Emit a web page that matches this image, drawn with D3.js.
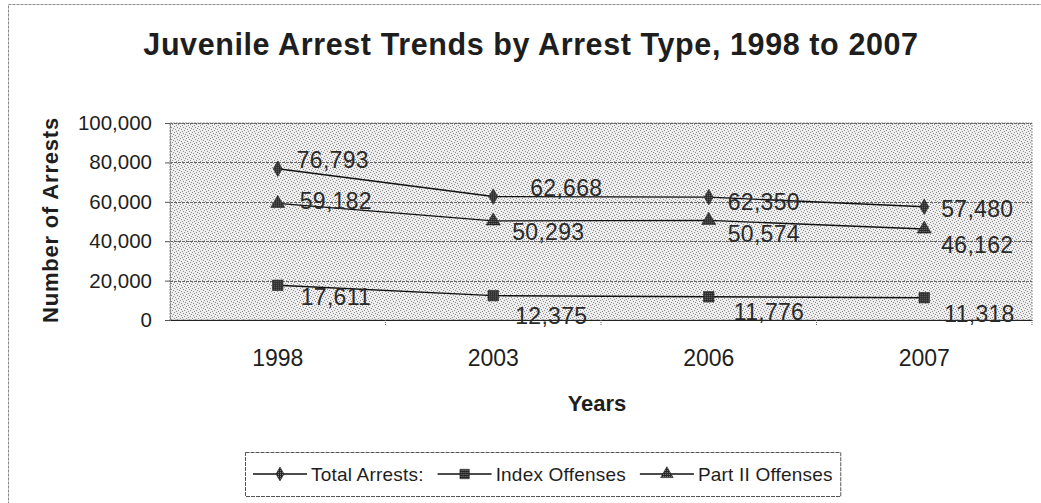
<!DOCTYPE html>
<html>
<head>
<meta charset="utf-8">
<script src="https://cdn.jsdelivr.net/npm/d3@7"></script>
<style>
  html, body { margin: 0; padding: 0; background: #fff; }
  svg { display: block; font-family: "Liberation Sans", Arial, sans-serif; }
</style>
</head>
<body>
<svg id="chart" width="1041" height="503"></svg>
<script>
// Juvenile arrests by type, selected years
const years = ["1998", "2003", "2006", "2007"];
const totalArrests = [76793, 62668, 62350, 57480];
const indexOffenses = [17611, 12375, 11776, 11318];
const partIIOffenses = [59182, 50293, 50574, 46162];
const yTickValues = [0, 20000, 40000, 60000, 80000, 100000];

const seriesNames = ["Total Arrests:", "Index Offenses", "Part II Offenses"];

const svg = d3.select("#chart");
const W = 1041, H = 503;
const plot = { left: 170, right: 1032, top: 123, bottom: 320 };
const ink = "#1e1e1e";
const fmt = d3.format(",");

// halftone-like fill for the plot area
const defs = svg.append("defs");
const pat = defs.append("pattern")
  .attr("id", "dots").attr("width", 6).attr("height", 6)
  .attr("patternUnits", "userSpaceOnUse");
pat.append("rect").attr("width", 6).attr("height", 6).attr("fill", "#eeeeee");
[[0, 0], [3, 1], [1, 3], [4, 4], [2, 5], [5, 2]].forEach(([x, y]) =>
  pat.append("rect").attr("x", x).attr("y", y).attr("width", 1).attr("height", 1).attr("fill", "#8c8c8c"));

const markPat = defs.append("pattern")
  .attr("id", "markfill").attr("width", 2).attr("height", 2)
  .attr("patternUnits", "userSpaceOnUse");
markPat.append("rect").attr("width", 2).attr("height", 2).attr("fill", "#262626");
markPat.append("rect").attr("width", 1).attr("height", 1).attr("fill", "#808080");

// outer chart border
svg.append("rect")
  .attr("x", 8.5).attr("y", 4.5).attr("width", W - 6).attr("height", H - 2)
  .attr("fill", "none").attr("stroke", "#888").attr("stroke-dasharray", "3,1");

// title
svg.append("text")
  .attr("x", 531).attr("y", 55)
  .attr("text-anchor", "middle")
  .attr("font-size", 30.5).attr("font-weight", "bold").attr("fill", ink)
  .attr("letter-spacing", 0.6)
  .text("Juvenile Arrest Trends by Arrest Type, 1998 to 2007");

// scales
const x = d3.scaleBand().domain(years).range([plot.left, plot.right]);
const y = d3.scaleLinear().domain([0, 100000]).range([plot.bottom, plot.top]);

// plot background
svg.append("rect")
  .attr("x", plot.left).attr("y", plot.top)
  .attr("width", plot.right - plot.left).attr("height", plot.bottom - plot.top)
  .attr("fill", "url(#dots)")
  .attr("stroke", "#999").attr("stroke-dasharray", "2,1");

// gridlines
svg.append("g")
  .selectAll("line")
  .data(yTickValues.filter(v => v > 0))
  .join("line")
  .attr("x1", plot.left).attr("x2", plot.right)
  .attr("y1", d => Math.round(y(d)) + 0.5).attr("y2", d => Math.round(y(d)) + 0.5)
  .attr("stroke", "#666").attr("stroke-dasharray", "3,1");

// y axis
const yAxis = svg.append("g")
  .attr("transform", `translate(${plot.left},0)`)
  .call(d3.axisLeft(y).tickValues(yTickValues).tickFormat(fmt).tickSize(5).tickPadding(13));
yAxis.select(".domain").attr("stroke", "#888").attr("stroke-dasharray", "2,1");
yAxis.selectAll(".tick line").attr("stroke", "#555");
yAxis.selectAll(".tick text")
  .attr("font-size", 20.5).attr("fill", ink)
  .attr("font-family", "Liberation Sans, Arial, sans-serif");

// x axis
const xAxis = svg.append("g")
  .attr("transform", `translate(0,${plot.bottom})`)
  .call(d3.axisBottom(x).tickSize(0).tickPadding(30));
xAxis.select(".domain").attr("stroke", "#222").attr("stroke-width", 1.2);
xAxis.selectAll(".tick text")
  .attr("font-size", 23).attr("fill", ink)
  .attr("font-family", "Liberation Sans, Arial, sans-serif");
// category separators below the axis
const bounds = years.slice(1).map(d => x(d)).concat([plot.right]);
svg.append("g")
  .selectAll("line")
  .data(bounds)
  .join("line")
  .attr("x1", d => d).attr("x2", d => d)
  .attr("y1", plot.bottom).attr("y2", plot.bottom + 6)
  .attr("stroke", "#666").attr("stroke-dasharray", "1,1");

// axis titles
svg.append("text")
  .attr("transform", `translate(58,220) rotate(-90)`)
  .attr("text-anchor", "middle")
  .attr("font-size", 22).attr("font-weight", "bold").attr("fill", ink)
  .attr("letter-spacing", 0.8)
  .text("Number of Arrests");

svg.append("text")
  .attr("x", (plot.left + plot.right) / 2 - 4).attr("y", 411)
  .attr("text-anchor", "middle")
  .attr("font-size", 22).attr("font-weight", "bold").attr("fill", ink)
  .text("Years");

// series
const series = [
  { name: seriesNames[0], values: totalArrests, symbol: d3.symbolDiamond, size: 70,
    offsets: [[19, -9], [37, -9], [19, 5], [17, 2]] },
  { name: seriesNames[1], values: indexOffenses, symbol: d3.symbolSquare, size: 110,
    offsets: [[23, 12], [22, 20], [25, 15], [20, 16]] },
  { name: seriesNames[2], values: partIIOffenses, symbol: d3.symbolTriangle, size: 85,
    offsets: [[22, -2], [19, 11], [19, 14], [17, 16]] }
];

const cx = d => x(d) + x.bandwidth() / 2;
const line = d3.line().x(d => cx(d.year)).y(d => y(d.value));

series.forEach(s => {
  const pts = years.map((yr, i) => ({ year: yr, value: s.values[i], off: s.offsets[i] }));
  const g = svg.append("g");
  g.append("path")
    .datum(pts)
    .attr("d", line)
    .attr("fill", "none").attr("stroke", "#111").attr("stroke-width", 1.4);
  g.selectAll("path.mark")
    .data(pts)
    .join("path")
    .attr("class", "mark")
    .attr("transform", d => `translate(${cx(d.year)},${y(d.value)})`)
    .attr("d", d3.symbol().type(s.symbol).size(s.size))
    .attr("fill", "url(#markfill)").attr("stroke", "#222").attr("stroke-width", 0.6);
  g.selectAll("text")
    .data(pts)
    .join("text")
    .attr("x", d => cx(d.year) + d.off[0])
    .attr("y", d => y(d.value) + d.off[1])
    .attr("dy", "0.35em")
    .attr("font-size", 23).attr("letter-spacing", 0.3).attr("fill", "#2a2a2a")
    .text(d => fmt(d.value));
});

// legend, laid out left to right from measured text widths
const legend = svg.append("g");
const box = legend.append("rect")
  .attr("x", 245.5).attr("y", 452.5).attr("height", 44)
  .attr("fill", "#fff").attr("stroke", "#555").attr("stroke-dasharray", "4,1");
let lx = 253;
const ly = 474;
series.forEach((s, i) => {
  legend.append("line")
    .attr("x1", lx).attr("x2", lx + 54).attr("y1", ly).attr("y2", ly)
    .attr("stroke", "#111").attr("stroke-width", 1.3);
  legend.append("path")
    .attr("transform", `translate(${lx + 27},${ly})`)
    .attr("d", d3.symbol().type(s.symbol).size(s.size * 0.8))
    .attr("fill", "url(#markfill)").attr("stroke", "#222").attr("stroke-width", 0.6);
  const t = legend.append("text")
    .attr("x", lx + 58).attr("y", ly).attr("dy", "0.35em")
    .attr("font-size", 19).attr("letter-spacing", 0.2).attr("fill", ink)
    .text(s.name);
  lx = lx + 58 + t.node().getComputedTextLength() + 14;
});
box.attr("width", lx - 14 + 8 - 245.5);
</script>
</body>
</html>
